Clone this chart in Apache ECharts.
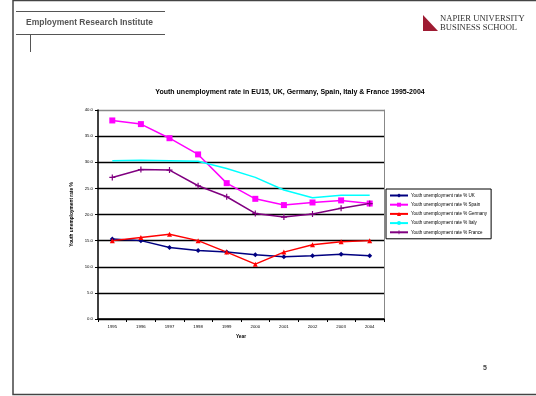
<!DOCTYPE html>
<html>
<head>
<meta charset="utf-8">
<script src="https://cdn.jsdelivr.net/npm/echarts@6/dist/echarts.min.js"></script>
<style>
  html, body { margin: 0; padding: 0; background: #fff; }
  #chart { width: 536px; height: 396px; }
</style>
</head>
<body>
<div id="chart"></div>
<script>
// Youth unemployment rate (%), 1995-2004
const years = ['1995', '1996', '1997', '1998', '1999', '2000', '2001', '2002', '2003', '2004'];
const uk      = [15.3, 15.0, 13.7, 13.1, 12.8, 12.3, 11.9, 12.1, 12.4, 12.1];
const spain   = [38.0, 37.3, 34.6, 31.5, 26.0, 23.0, 21.8, 22.3, 22.7, 22.1];
const germany = [15.0, 15.6, 16.2, 15.0, 12.8, 10.5, 12.8, 14.2, 14.8, 15.0];
const italy   = [30.3, 30.4, 30.3, 30.2, 28.8, 27.1, 24.7, 23.2, 23.7, 23.7];
const france  = [27.1, 28.6, 28.5, 25.5, 23.4, 20.2, 19.5, 20.1, 21.2, 22.1];
const seriesNames = [
  'Youth unemployment rate % UK',
  'Youth unemployment rate % Spain',
  'Youth unemployment rate % Germany',
  'Youth unemployment rate % Italy',
  'Youth unemployment rate % France'
];
const yTicks = { min: 0, max: 40, step: 5 };

const FONT = 'Liberation Sans, Arial, sans-serif';
const plusSymbol = 'path://M4,0h2v4h4v2h-4v4h-2v-4h-4v-2h4z';

function line(name, data, color, symbol, size) {
  return {
    name, type: 'line', data,
    symbol, symbolSize: size,
    showSymbol: symbol !== 'none',
    lineStyle: { color, width: 1.5 },
    itemStyle: { color },
    animation: false
  };
}

const chart = echarts.init(document.getElementById('chart'), null, { renderer: 'canvas' });

chart.setOption({
  backgroundColor: '#fff',
  animation: false,
  title: {
    text: 'Youth unemployment rate in EU15, UK, Germany, Spain, Italy & France 1995-2004',
    left: 285, top: 84, textAlign: 'center',
    textStyle: { fontFamily: FONT, fontSize: 7, fontWeight: 'bold', color: '#000' }
  },
  grid: { left: 98, right: 152, top: 110, bottom: 77, containLabel: false },
  legend: {
    orient: 'vertical',
    left: 386, top: 189,
    padding: [4, 4, 4, 3],
    itemGap: 4.2,
    itemWidth: 18, itemHeight: 5,
    borderColor: '#000', borderWidth: 1,
    textStyle: { fontFamily: FONT, fontSize: 4.5, color: '#000', padding: [0, 0, 0, -2] },
    data: seriesNames
  },
  xAxis: {
    type: 'category',
    data: years,
    boundaryGap: true,
    name: 'Year',
    nameLocation: 'middle',
    nameGap: 14,
    nameTextStyle: { fontFamily: FONT, fontSize: 4.8, fontWeight: 'bold', color: '#000' },
    axisLine: { lineStyle: { color: '#000', width: 1.5 } },
    axisTick: { show: true, length: 3, lineStyle: { color: '#000' } },
    axisLabel: { fontFamily: FONT, fontSize: 4.3, color: '#000', margin: 6 }
  },
  yAxis: [{
    type: 'value',
    min: yTicks.min, max: yTicks.max, interval: yTicks.step,
    name: 'Youth unemployment rate %',
    nameLocation: 'middle',
    nameGap: 17,
    nameRotate: 90,
    nameTextStyle: { fontFamily: FONT, fontSize: 4.8, fontWeight: 'bold', color: '#000' },
    axisLine: { show: true, lineStyle: { color: '#000', width: 1.5 } },
    axisTick: { show: true, length: 3, lineStyle: { color: '#000' } },
    axisLabel: { fontFamily: FONT, fontSize: 4.3, color: '#000', margin: 5,
                 formatter: v => v.toFixed(1) },
    splitLine: { show: true, lineStyle: {
      color: ['#000', '#000', '#000', '#000', '#000', '#000', '#000', '#000', '#888'],
      width: 1.3 } }
  }, {
    type: 'value',
    position: 'right',
    min: yTicks.min, max: yTicks.max, interval: yTicks.step,
    axisLine: { show: true, lineStyle: { color: '#888', width: 1 } },
    axisTick: { show: false }, axisLabel: { show: false }, splitLine: { show: false }
  }],
  series: [
    line(seriesNames[0], uk, '#000080', 'diamond', 5),
    line(seriesNames[1], spain, '#ff00ff', 'rect', 6),
    line(seriesNames[2], germany, '#ff0000', 'triangle', 5),
    line(seriesNames[3], italy, '#00ffff', 'none', 0),
    line(seriesNames[4], france, '#800080', plusSymbol, 6)
  ],
  graphic: [
    // page frame
    { type: 'rect', shape: { x: 13, y: 0.5, width: 530, height: 394 },
      style: { fill: 'none', stroke: '#444', lineWidth: 1.5 }, silent: true },
    // header rules and institute name
    { type: 'line', shape: { x1: 16, y1: 11.5, x2: 165, y2: 11.5 }, style: { stroke: '#555', lineWidth: 1 } },
    { type: 'line', shape: { x1: 16, y1: 34.5, x2: 165, y2: 34.5 }, style: { stroke: '#555', lineWidth: 1 } },
    { type: 'line', shape: { x1: 30.5, y1: 35, x2: 30.5, y2: 52 }, style: { stroke: '#555', lineWidth: 1 } },
    { type: 'text', left: 26, top: 18,
      style: { text: 'Employment Research Institute', fill: '#555',
               font: 'bold 8.5px Liberation Sans, Arial, sans-serif' } },
    // school logo
    { type: 'polygon', shape: { points: [[423, 15], [423, 31], [438, 31]] },
      style: { fill: '#9e1b32' } },
    { type: 'text', left: 440, top: 14.5,
      style: { text: 'NAPIER UNIVERSITY', fill: '#333',
               font: '8.6px Liberation Serif, Times New Roman, serif' } },
    { type: 'text', left: 440, top: 23,
      style: { text: 'BUSINESS SCHOOL', fill: '#333',
               font: '8.6px Liberation Serif, Times New Roman, serif' } },
    // page number
    { type: 'text', left: 483, top: 365,
      style: { text: '5', fill: '#444', font: 'bold 7px Liberation Sans, Arial, sans-serif' } }
  ]
});
</script>
</body>
</html>
